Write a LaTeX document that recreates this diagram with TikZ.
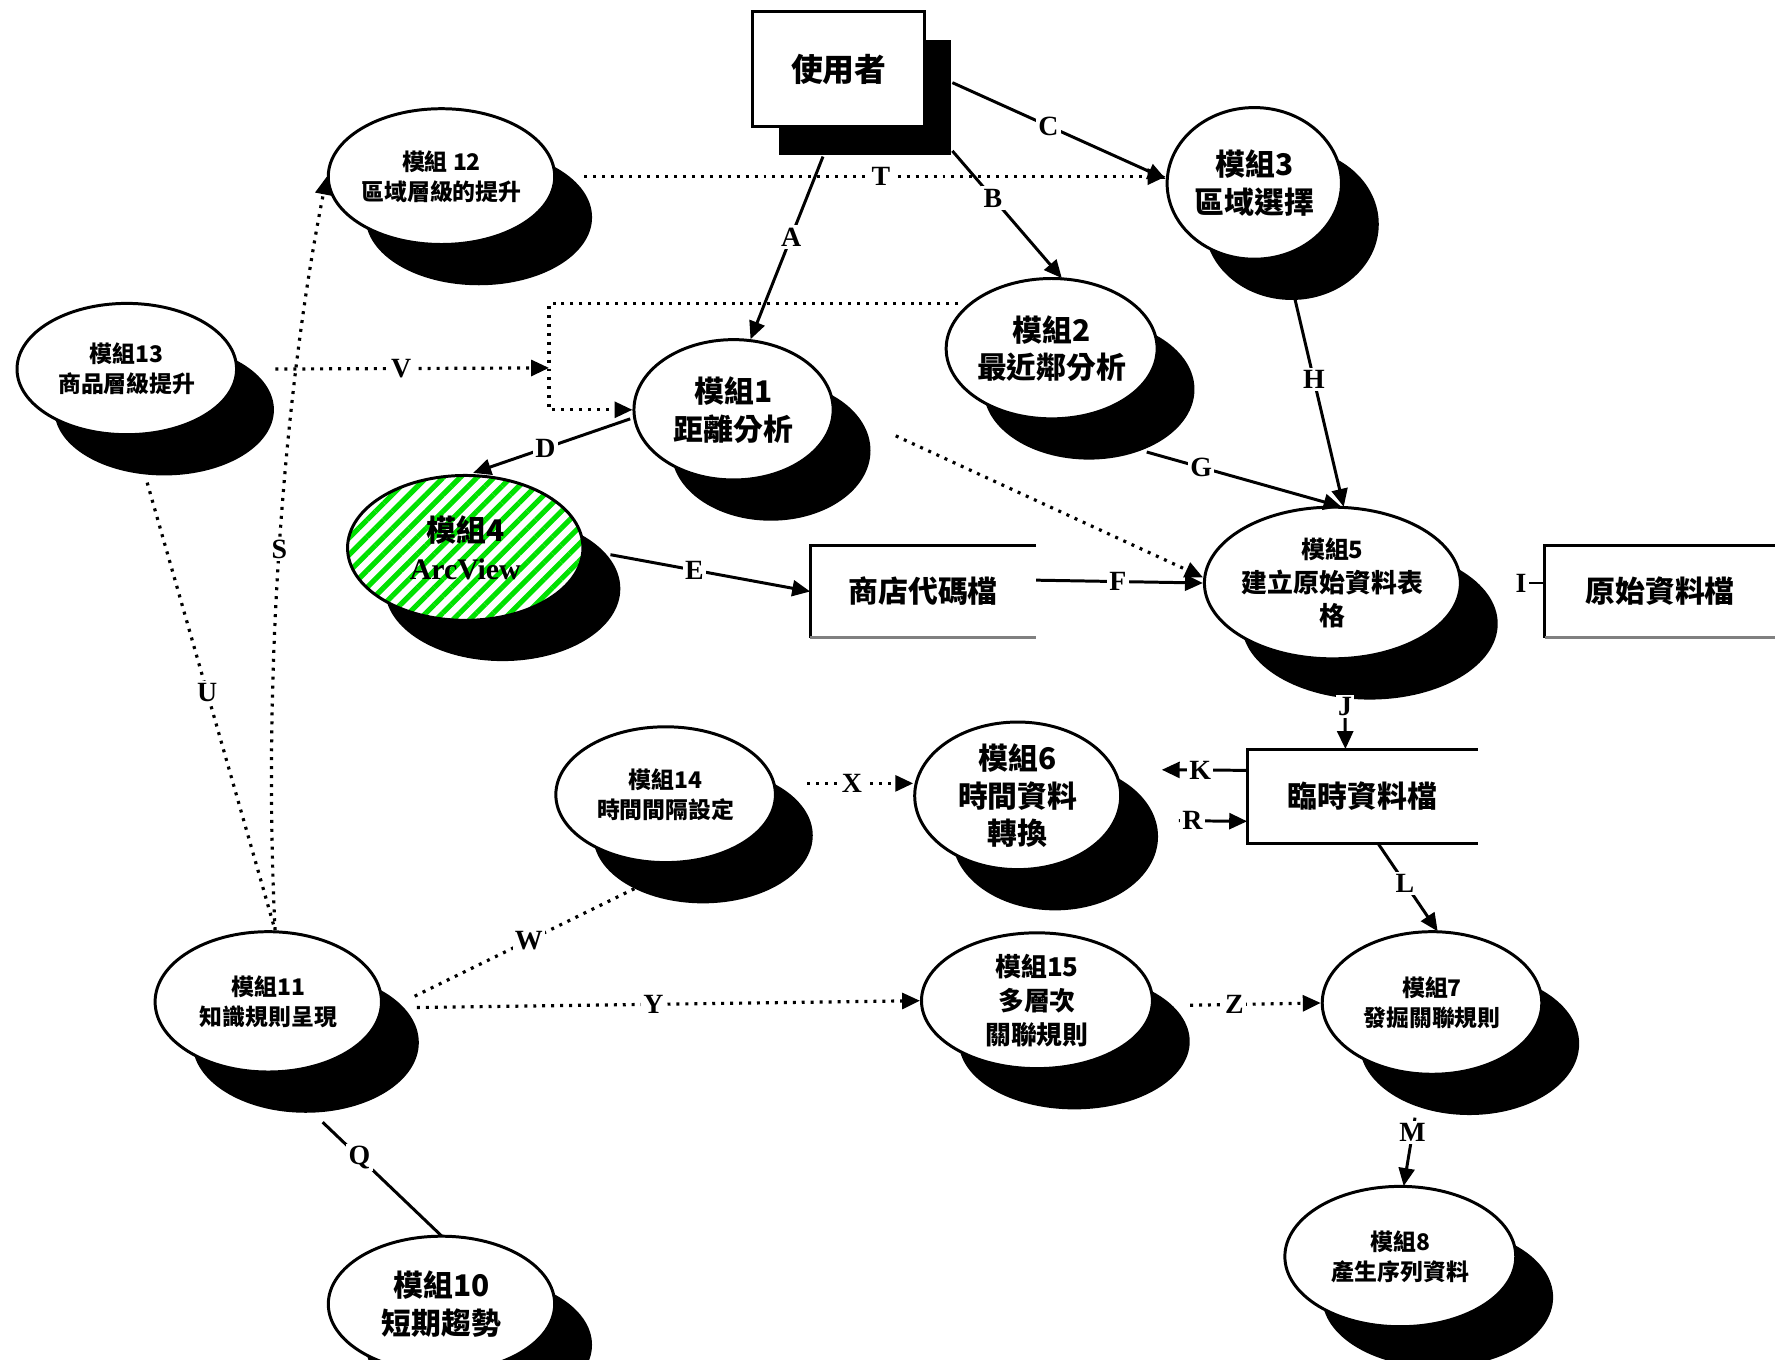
\documentclass[tikz,border=0pt]{standalone}
\usepackage{fontspec}
\setmainfont{Liberation Serif}
\newfontfamily\cjk{Noto Sans CJK TC}
\usetikzlibrary{shapes.geometric,shadows,arrows.meta,calc,patterns.meta}
\definecolor{hatchgreen}{RGB}{0,225,0}
\tikzset{
  mod/.style={ellipse, draw, line width=1.5pt, fill=white, inner sep=0pt, align=center,
    drop shadow={shadow xshift=0.66cm, shadow yshift=-0.72cm, fill=black, opacity=1}},
  fbig/.style={font=\cjk\bfseries\fontsize{15}{19}\selectfont},
  fmid/.style={font=\cjk\bfseries\fontsize{13}{17}\selectfont},
  fsmall/.style={font=\cjk\bfseries\fontsize{11.5}{15}\selectfont},
  filebox/.style={rectangle, inner sep=0pt, align=center, font=\cjk\bfseries\fontsize{15}{19}\selectfont},
  arr/.style={line width=1.5pt, -{Triangle[length=9pt,width=8pt]}},
  sol/.style={line width=1.5pt},
  dotln/.style={line width=1.6pt, dash pattern=on 1.5pt off 3pt},
  darr/.style={dotln, -{Triangle[length=9pt,width=8pt]}},
  lbl/.style={fill=white, inner sep=1.2pt, font=\rmfamily\bfseries\fontsize{14}{14}\selectfont},
}
\begin{document}
\begin{tikzpicture}[x=0.02cm, y=-0.02cm]
\fill[white] (0,0) rectangle (1568,1201);
\useasboundingbox (0,0) rectangle (1568,1201);

% user box
\node[draw, line width=1.5pt, fill=white, minimum width=3.04cm, minimum height=2.04cm, inner sep=0pt,
  drop shadow={shadow xshift=0.46cm, shadow yshift=-0.5cm, fill=black, opacity=1},
  font=\cjk\bfseries\fontsize{16}{19}\selectfont] (user) at (741,61) {使用者};

% modules
\node[mod, fsmall, minimum width=4cm, minimum height=2.4cm] (m12) at (390,156) {模組 12\\區域層級的提升};
\node[mod, fsmall, minimum width=3.88cm, minimum height=2.32cm] (m13) at (112,326) {模組13\\商品層級提升};
\node[mod, fbig, minimum width=3.08cm, minimum height=2.68cm] (m3) at (1108,162) {模組3\\區域選擇};
\node[mod, fbig, minimum width=3.64cm, minimum height=2.48cm] (m2) at (929,308) {模組2\\最近鄰分析};
\node[mod, fbig, minimum width=3.52cm, minimum height=2.48cm] (m1) at (648,362) {模組1\\距離分析};
\node[ellipse, draw, line width=1.5pt, inner sep=0pt, align=center, fbig,
  drop shadow={shadow xshift=0.66cm, shadow yshift=-0.72cm, fill=black, opacity=1},
  preaction={fill=white},
  pattern={Lines[angle=45, distance=6pt, line width=2.6pt]}, pattern color=hatchgreen,
  minimum width=4.16cm, minimum height=2.56cm] (m4) at (411,484) {模組4\\{\rmfamily ArcView}};
\node[mod, fmid, minimum width=3.68cm, minimum height=2.68cm] (m5) at (1177,515) {{\fontsize{12}{15}\selectfont 模組5}\\建立原始資料表\\格};
\node[mod, fbig, minimum width=3.64cm, minimum height=2.4cm] (m6) at (899,703) {模組6\\時間資料\\轉換};
\node[mod, fsmall, minimum width=3.88cm, minimum height=2.4cm] (m14) at (588,702) {模組14\\時間間隔設定};
\node[mod, fsmall, minimum width=4cm, minimum height=2.48cm] (m11) at (237,885) {模組11\\知識規則呈現};
\node[mod, fmid, minimum width=4.08cm, minimum height=2.4cm] (m15) at (916,884) {模組15\\多層次\\關聯規則};
\node[mod, fsmall, minimum width=3.88cm, minimum height=2.52cm] (m7) at (1265,886) {模組7\\發掘關聯規則};
\node[mod, fsmall, minimum width=4.08cm, minimum height=2.48cm] (m8) at (1237,1110) {模組8\\產生序列資料};
\node[mod, fbig, minimum width=4cm, minimum height=2.4cm] (m10) at (390,1152) {模組10\\短期趨勢};

% open file boxes
\node[filebox, minimum width=3.98cm, minimum height=1.62cm] (shop) at (815.5,522.5) {商店代碼檔};
\draw[sol] (shop.north east) -- (shop.north west) -- (shop.south west);
\draw[sol, gray] (shop.south west) -- (shop.south east);
\node[filebox, minimum width=4.06cm, minimum height=1.62cm] (raw) at (1466.5,522.5) {原始資料檔};
\draw[sol] (raw.north east) -- (raw.north west) -- (raw.south west);
\draw[sol, gray] (raw.south west) -- (raw.south east);
\node[filebox, minimum width=4.06cm, minimum height=1.66cm] (tmp) at (1203.5,703.5) {臨時資料檔};
\draw[sol] (tmp.north east) -- (tmp.north west) -- (tmp.south west) -- (tmp.south east);

\coordinate (vj) at (485,325);

% solid connectors
\draw[arr] ($(user.south)+(-14,25)$) -- node[lbl,pos=0.44]{A} ($(m1.north)+(15,1)$);
\draw[arr] ($(user.south east)+(23,20)$) -- node[lbl,pos=0.37]{B} ($(m2.north)+(9,1)$);
\draw[arr] ($(user.east)+(23,12)$) -- node[lbl,pos=0.45]{C} ($(m3.west)+(0,-4)$);
\draw[arr] ($(m3.south)+(35,30)$) -- node[lbl,pos=0.4]{H} ($(m5.north)+(10,1)$);
\draw[arr] ($(m2.south)+(84,28)$) -- node[lbl,pos=0.28]{G} ($(m5.north)+(8,1)$);
\draw[arr] ($(m1.west)+(-2,8)$) -- node[lbl,pos=0.54]{D} ($(m4.north)+(7,0)$);
\draw[arr] ($(m4.east)+(22,6)$) -- node[lbl,pos=0.42]{E} (shop.west);
\draw[arr] ($(shop.east)+(0,-10)$) -- node[lbl,pos=0.49]{F} (m5.west);
\draw[sol] ($(m5.east)+(47,0)$) -- node[lbl,pos=0.2]{I} (raw.west |- m5.east);
\draw[arr] ($(m5.south)+(11,30)$) -- node[lbl,pos=0.22]{J} ($(tmp.north)+(-15,0)$);
\draw[arr] ($(tmp.west)+(0,-23)$) -- node[lbl,pos=0.55]{K} ($(m6.east)+(35,-23)$);
\draw[arr] ($(m6.east)+(50,22)$) -- node[lbl,pos=0.2]{R} ($(tmp.west)+(0,22)$);
\draw[arr] ($(tmp.south)+(14,0)$) -- node[lbl,pos=0.45]{L} ($(m7.north)+(5,1)$);
\draw[arr] ($(m7.south)+(-15,37)$) -- node[lbl,pos=0.22]{M} ($(m8.north)+(3,1)$);
\draw[sol] ($(m11.south)+(48,43)$) -- node[lbl,pos=0.31]{Q} ($(m10.north)+(0,1)$);

% dotted connectors
\draw[darr] ($(m12.east)+(25,0)$) -- node[lbl,pos=0.51]{T} (m3.west |- m12.east);
\draw[darr] ($(m2.west)+(12,-40)$) -| (vj) |- (m1.west);
\draw[darr] ($(m13.east)+(33,0)$) -- node[lbl,pos=0.46]{V} (vj);
\draw[darr] ($(m1.east)+(54,23)$) -- ($(m5.west)+(0,-5)$);
\draw[darr] ($(m14.east)+(27,-10)$) -- node[lbl,pos=0.42]{X} ($(m6.west)+(0,-11)$);
\draw[darr] ($(m15.east)+(32,4)$) -- node[lbl,pos=0.34]{Z} (m7.west);
\draw[darr] ($(m11.east)+(30,5)$) -- node[lbl,pos=0.47]{Y} (m15.west);
\draw[dotln] ($(m11.east)+(28,-5)$) -- node[lbl,pos=0.5]{W} ($(m14.south)+(-20,18)$);
\draw[darr] ($(m11.north)+(6,0)$) .. controls (232,600) and (250,350) .. node[lbl,pos=0.49]{S} (m12.west);
\draw[dotln] ($(m13.south)+(18,41)$) -- node[lbl,pos=0.47]{U} ($(m11.north)+(6,0)$);
\end{tikzpicture}
\end{document}
